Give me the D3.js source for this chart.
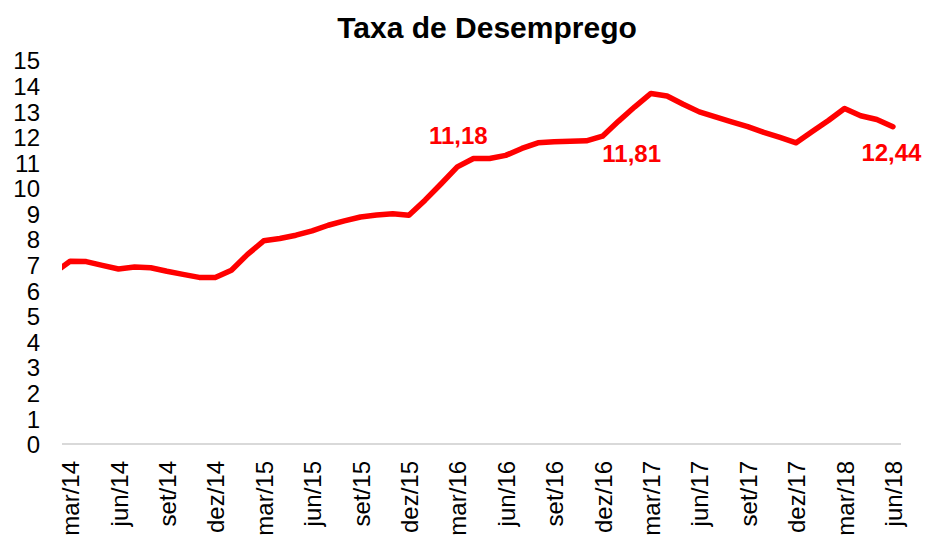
<!DOCTYPE html>
<html>
<head>
<meta charset="utf-8">
<script src="https://cdn.jsdelivr.net/npm/d3@7/dist/d3.min.js"></script>
<style>
  html, body { margin: 0; padding: 0; background: #fff; }
  svg { display: block; font-family: "Liberation Sans", Arial, sans-serif; }
</style>
</head>
<body>
<svg id="chart" width="925" height="537"></svg>
<script>
// ---- data ----
const months = [
  "fev/14","mar/14","abr/14","mai/14","jun/14","jul/14","ago/14","set/14","out/14","nov/14","dez/14",
  "jan/15","fev/15","mar/15","abr/15","mai/15","jun/15","jul/15","ago/15","set/15","out/15","nov/15","dez/15",
  "jan/16","fev/16","mar/16","abr/16","mai/16","jun/16","jul/16","ago/16","set/16","out/16","nov/16","dez/16",
  "jan/17","fev/17","mar/17","abr/17","mai/17","jun/17","jul/17","ago/17","set/17","out/17","nov/17","dez/17",
  "jan/18","fev/18","mar/18","abr/18","mai/18","jun/18"
];
const rate = [
  6.70, 7.16, 7.15, 7.00, 6.86, 6.94, 6.91, 6.77, 6.65, 6.53, 6.53,
  6.81, 7.43, 7.96, 8.05, 8.18, 8.35, 8.57, 8.74, 8.89, 8.97, 9.02, 8.96,
  9.55, 10.19, 10.85, 11.18, 11.18, 11.30, 11.57, 11.79, 11.83, 11.85, 11.87, 12.05,
  12.64, 13.20, 13.72, 13.62, 13.30, 13.00, 12.80, 12.61, 12.42, 12.20, 12.00, 11.79,
  12.23, 12.66, 13.13, 12.85, 12.70, 12.42
];
const tickLabels = ["mar/14","jun/14","set/14","dez/14","mar/15","jun/15","set/15","dez/15",
  "mar/16","jun/16","set/16","dez/16","mar/17","jun/17","set/17","dez/17","mar/18","jun/18"];
const yTicks = [0,1,2,3,4,5,6,7,8,9,10,11,12,13,14,15];
const labelTexts = ["11,18", "11,81", "12,44"];
const labelValues = [11.18, 11.81, 12.44];
const labelMonths = ["mar/16", "jan/17", "jun/18"];
const title = "Taxa de Desemprego";

// ---- layout ----
const svg = d3.select("#chart");
const plotLeft = 62, plotRight = 901, yZero = 444.5, yTop = 60.7;

const x = d3.scaleLinear().domain([0.5, months.length - 0.5]).range([plotLeft, plotRight]);
const y = d3.scaleLinear().domain([0, 15]).range([yZero, yTop]);
const idx = m => months.indexOf(m);

svg.append("text")
  .attr("x", 487).attr("y", 38)
  .attr("text-anchor", "middle")
  .attr("font-size", 30).attr("font-weight", "bold").attr("fill", "#000")
  .text(title);

// y labels
svg.append("g").selectAll("text").data(yTicks).join("text")
  .attr("x", 40).attr("y", d => y(d)).attr("dy", "0.36em")
  .attr("text-anchor", "end").attr("font-size", 24).attr("fill", "#000")
  .text(d => d);

// x axis line
const xAxis = d3.axisBottom(x)
  .tickValues(tickLabels.map(idx))
  .tickSize(0)
  .tickFormat(i => months[i]);
const gx = svg.append("g").attr("transform", `translate(0,${yZero - 0.5})`).call(xAxis);
gx.select(".domain").attr("stroke", "#d9d9d9").attr("stroke-width", 2)
  .attr("d", `M${plotLeft},0H${plotRight}`);
gx.selectAll(".tick text")
  .attr("font-family", "Liberation Sans, Arial, sans-serif")
  .attr("font-size", 24).attr("fill", "#000")
  .attr("transform", "rotate(-90)")
  .attr("x", -17).attr("y", 0).attr("dy", "0.36em")
  .attr("text-anchor", "end");

// clip
svg.append("clipPath").attr("id", "clip").append("rect")
  .attr("x", plotLeft).attr("y", 0).attr("width", plotRight - plotLeft).attr("height", 537);

const line = d3.line().x((d, i) => x(i)).y(d => y(d));
svg.append("path")
  .datum(rate)
  .attr("clip-path", "url(#clip)")
  .attr("fill", "none").attr("stroke", "#ff0000").attr("stroke-width", 5.5)
  .attr("stroke-linejoin", "round").attr("stroke-linecap", "round")
  .attr("d", line);

// data labels
const labelOffsets = [[1, -14], [13, 20], [-1.5, 35]];
svg.append("g").selectAll("text").data(labelTexts).join("text")
  .attr("x", (d, i) => x(idx(labelMonths[i])) + labelOffsets[i][0])
  .attr("y", (d, i) => y(labelValues[i]) + labelOffsets[i][1])
  .attr("text-anchor", "middle").attr("font-size", 24).attr("font-weight", "bold")
  .attr("fill", "#ff0000")
  .text(d => d);
</script>
</body>
</html>
